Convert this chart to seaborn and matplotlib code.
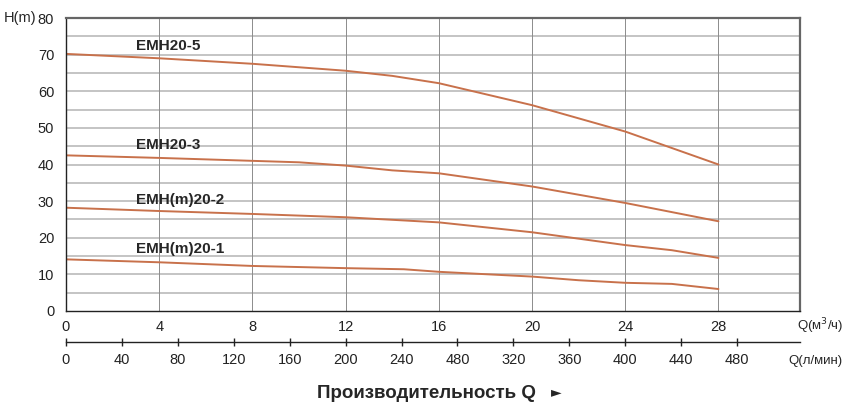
import numpy as np
import pandas as pd
import matplotlib
matplotlib.use("Agg")
import matplotlib.pyplot as plt
import seaborn as sns

# Kennlinien (Q in m3/h, H in m)
q_emh20_5 = [0, 4, 8, 12, 14, 16, 20, 24, 28]
h_emh20_5 = [70.2, 69.0, 67.5, 65.6, 64.2, 62.2, 56.2, 49.0, 40.0]

q_emh20_3 = [0, 4, 8, 10, 12, 14, 16, 20, 24, 28]
h_emh20_3 = [42.5, 41.8, 41.0, 40.6, 39.7, 38.4, 37.6, 34.0, 29.5, 24.5]

q_emh20_2 = [0, 4, 8, 12, 16, 20, 24, 26, 28]
h_emh20_2 = [28.2, 27.3, 26.5, 25.6, 24.2, 21.5, 18.0, 16.6, 14.5]

q_emh20_1 = [0, 4, 8, 12, 14.5, 16, 20, 22, 24, 26, 28]
h_emh20_1 = [14.1, 13.3, 12.3, 11.7, 11.4, 10.7, 9.4, 8.4, 7.7, 7.4, 6.0]

models = ["EMH20-5", "EMH20-3", "EMH(m)20-2", "EMH(m)20-1"]
label_pos = [(3.0, 72.3), (3.0, 45.4), (3.0, 30.3), (3.0, 16.8)]

x_ticks = [0, 4, 8, 12, 16, 20, 24, 28]
lpm_ticks = [0, 40, 80, 120, 160, 200, 240, 280, 320, 360, 400, 440, 480]
lpm_labels = ["0", "40", "80", "120", "160", "200", "240", "480", "320", "360", "400", "440", "480"]

df = pd.concat([
    pd.DataFrame({"Q": q, "H": h, "model": m})
    for q, h, m in zip([q_emh20_5, q_emh20_3, q_emh20_2, q_emh20_1],
                       [h_emh20_5, h_emh20_3, h_emh20_2, h_emh20_1], models)
])

sns.set_style("white")
plt.rcParams['font.family'] = ['Liberation Sans', 'DejaVu Sans']

fig = plt.figure(figsize=(8.45, 4.12), dpi=100)
ax = fig.add_axes([66/845, 1-311/412, 734/845, 293/412])

line_color = "#c8714b"
for m in models:
    d = df[df["model"] == m]
    sns.lineplot(data=d, x="Q", y="H", ax=ax, color=line_color, lw=1.4,
                 estimator=None, sort=False)

for m, (x, y) in zip(models, label_pos):
    ax.text(x, y, m, fontsize=11, fontweight='bold', va='center', ha='left')

ax.set_xlim(0, 31.5)
ax.set_ylim(0, 80)
ax.set_xticks(x_ticks)
ax.set_xticks(np.arange(2, 31, 4), minor=True)
ax.set_yticks(np.arange(0, 81, 10))
ax.set_yticks(np.arange(5, 80, 10), minor=True)

# Gitter
ax.grid(False)
for y in np.arange(5, 80, 5):
    ax.axhline(y, color='#b4b4b4', lw=1.1, zorder=0)
for x in x_ticks[1:]:
    ax.axvline(x, color='#8c8c8c', lw=0.7, zorder=0)

ax.set_xlabel("")
ax.set_ylabel("")
ax.tick_params(axis='both', which='major', labelsize=10.5, colors='#222222')
ax.tick_params(axis='x', which='both', direction='inout', length=6, width=1)
ax.tick_params(axis='x', which='minor', length=5)
ax.tick_params(axis='y', which='major', direction='out', length=5, width=1)
ax.tick_params(axis='y', which='minor', direction='out', length=3, width=1, color='#555555')

for s in ['top', 'right']:
    ax.spines[s].set_color('#666666')
    ax.spines[s].set_linewidth(1.6)
for s in ['left', 'bottom']:
    ax.spines[s].set_color('#222222')
    ax.spines[s].set_linewidth(1.0)

# zweite Achse: l/min
sec = ax.secondary_xaxis(-0.106, functions=(lambda x: x * 1000 / 60, lambda x: x * 60 / 1000))
sec.set_xticks(lpm_ticks)
sec.set_xticklabels(lpm_labels)
sec.tick_params(direction='inout', length=6, width=1, labelsize=10.5, colors='#222222', pad=5)
sec.spines['bottom'].set_color('#222222')
sec.spines['bottom'].set_linewidth(1.0)

fig.text(843/845, 1-326/412, "Q(м$^3$/ч)", fontsize=9.5, ha='right', va='center')
fig.text(843/845, 1-361/412, "Q(л/мин)", fontsize=9.5, ha='right', va='center')
fig.text(0.004, 1-18/412, "H(m)", fontsize=10.5, ha='left', va='center')

fig.text(426/845, 1-393/412, "Производительность Q", fontsize=13.5, fontweight='bold',
         ha='center', va='center')
fig.text(556/845, 1-392/412, "►", fontsize=10, ha='center', va='center',
         family=['DejaVu Sans'])

fig.savefig("out.png", dpi=100)
